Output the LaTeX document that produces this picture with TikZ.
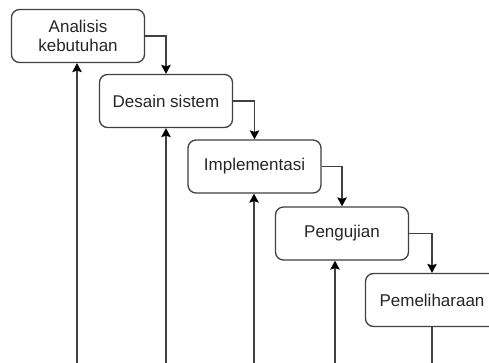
\documentclass[tikz,border=0pt]{standalone}
\usepackage{fontspec}
\setmainfont{Liberation Sans}
\usetikzlibrary{arrows.meta}
\tikzset{
  phase/.style={draw=black!75, line width=1.3pt, rounded corners=8pt, fill=white,
    minimum width=133pt, minimum height=53pt, inner sep=2pt, align=center,
    font=\fontsize{17}{19.5}\selectfont, text=black!85},
  flow/.style={draw=black!75, line width=1.3pt,
    -{Stealth[length=9pt,width=9.5pt,inset=1.5pt,fill=black,color=black]}},
  plain/.style={draw=black!75, line width=1.3pt}
}
\begin{document}
\begin{tikzpicture}[x=1pt,y=-1pt]
\useasboundingbox (0,0) rectangle (489,362);
\clip (0,0) rectangle (489,362);
\node[phase] (b1) at (78,36) {Analisis\\kebutuhan};
\node[phase] (b2) at (166,101) {Desain sistem};
\node[phase] (b3) at (254.5,166.5) {Implementasi};
\node[phase] (b4) at (342,233.5) {Pengujian};
\node[phase] (b5) at (432,300) {Pemeliharaan};
\draw[flow] (b1.east) -| (b2.north);
\draw[flow] (b2.east) -| (b3.north);
\draw[flow] (b3.east) -| (b4.north);
\draw[flow] (b4.east) -| (b5.north);
\coordinate (u1) at (77,363);
\coordinate (u2) at (166,363);
\coordinate (u3) at (254,363);
\coordinate (u4) at (335,363);
\coordinate (u5) at (432,363);
\draw[flow] (u1) -- (u1 |- b1.south);
\draw[flow] (u2) -- (u2 |- b2.south);
\draw[flow] (u3) -- (u3 |- b3.south);
\draw[flow] (u4) -- (u4 |- b4.south);
\draw[plain] (b5.south) -- (u5);
\end{tikzpicture}
\end{document}
